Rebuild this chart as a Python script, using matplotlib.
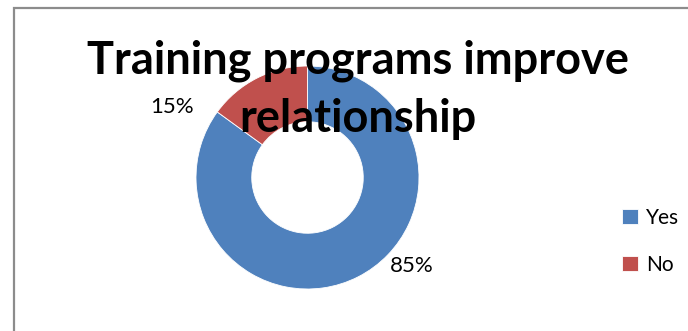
import matplotlib
matplotlib.use("Agg")
import matplotlib.pyplot as plt
from matplotlib.patches import Rectangle

title_lines = ["Training programs improve", "relationship"]
labels = ["Yes", "No"]
values = [85, 15]
colors = ["#4F81BD", "#C0504D"]

plt.rcParams['font.family'] = ['Lato', 'DejaVu Sans']

W, H = 688, 331
fig = plt.figure(figsize=(W / 100, H / 100), dpi=100)

# chart frame (runs off the right / bottom edge like the original)
fig.patches.append(Rectangle((13.5 / W, -0.1), 1.0, (H - 7.5) / H + 0.1,
                             transform=fig.transFigure, fill=False,
                             edgecolor="#8c8c8c", linewidth=1.6))

cx, cy, r = 307.5, 177.5, 111.5
ax = fig.add_axes([(cx - r) / W, (H - cy - r) / H, 2 * r / W, 2 * r / H])
wedges, _ = ax.pie(values, colors=colors, startangle=90, counterclock=False,
                   radius=1.0, wedgeprops=dict(width=0.5, edgecolor="white", linewidth=0.6))
ax.set_xlim(-1, 1)
ax.set_ylim(-1, 1)
ax.set_aspect("equal")
ax.axis("off")

# data labels, placed like Excel's best fit
label_pos = [(411.5, 266.5), (172.5, 107.5)]
for v, (px, py) in zip(values, label_pos):
    ax.text((px - cx) / r, (cy - py) / r, f"{v}%", ha="center", va="center",
            fontsize=16, color="black", clip_on=False)

# title drawn over the chart, one text per line
for line, base in zip(title_lines, [73, 132]):
    fig.text(358 / W, (H - base) / H, line, ha="center", va="baseline",
             fontsize=32.5, fontweight="bold")

leg = fig.legend(wedges, labels, loc="center left",
                 bbox_to_anchor=(612 / W, (H - 241.5) / H), frameon=False,
                 fontsize=15, handlelength=0.75, handleheight=0.75,
                 handletextpad=0.4, labelspacing=1.3, borderpad=0)

fig.savefig("out.png", dpi=100)
